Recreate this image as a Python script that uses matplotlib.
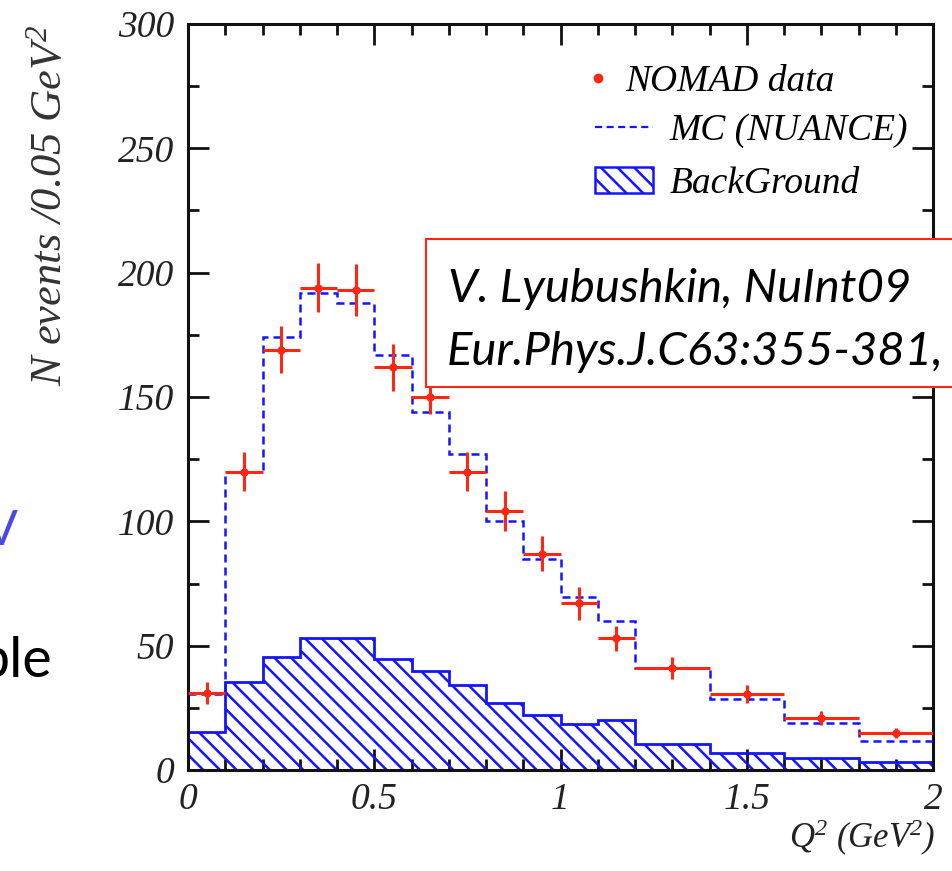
import numpy as np
import matplotlib
matplotlib.use("Agg")
import matplotlib.pyplot as plt
from matplotlib.lines import Line2D
from matplotlib.patches import Patch, Rectangle

# bin edges in Q^2 (GeV^2)
edges = [0.0, 0.1, 0.2, 0.3, 0.4, 0.5, 0.6, 0.7, 0.8, 0.9, 1.0, 1.1, 1.2, 1.4, 1.6, 1.8, 2.0]

# NOMAD data points (events / 0.05 GeV^2) with errors
data_vals = [31, 120, 169, 194, 193, 162, 150, 120, 104, 87, 67, 53, 41, 30.5, 21, 15]
data_errs = [4.5, 8, 9.5, 10, 10.5, 9.5, 7, 8, 8, 7, 6.5, 5, 4.4, 3.6, 2.8, 2]

# MC (NUANCE) prediction
mc_vals = [30.5, 120, 174, 192, 188, 167, 144, 127, 100, 85, 69.5, 60, 41, 28.5, 19, 11.7]

# background
bg_vals = [15.3, 35.5, 45.6, 53, 53, 44.7, 40, 34, 27, 22, 18.6, 20, 10.5, 6.8, 4.8, 3.2]

RED = "#ff2612"
BLUE = "#1414ff"
SERIF = "Liberation Serif"

plt.rcParams["hatch.linewidth"] = 1.8
plt.rcParams["mathtext.default"] = "regular"

W, H = 952, 871
fig = plt.figure(figsize=(W / 100, H / 100), dpi=100)
ax = fig.add_axes([188 / W, 1 - 770 / H, 745 / W, 746 / H])

edges_a = np.array(edges)
centers = 0.5 * (edges_a[1:] + edges_a[:-1])
half_w = 0.5 * (edges_a[1:] - edges_a[:-1])

# background, hatched
ax.stairs(bg_vals, edges, fill=True, facecolor="none", edgecolor=BLUE,
          hatch="\\\\", linewidth=2.0, zorder=2)

# MC dashed histogram
ax.stairs(mc_vals, edges, baseline=None, color=BLUE, linewidth=1.8,
          linestyle=(0, (3.2, 2.0)), zorder=3)

# data
ax.errorbar(centers, data_vals, xerr=half_w, yerr=data_errs, fmt="o",
            color=RED, ms=5, elinewidth=2.2, capsize=0, zorder=4)

ax.set_xlim(0, 2)
ax.set_ylim(0, 300)
ax.set_xticks([0, 0.5, 1, 1.5, 2])
ax.set_xticklabels(["0", "0.5", "1", "1.5", "2"])
ax.set_xticks(np.arange(0, 2.01, 0.1), minor=True)
ax.set_yticks([0, 50, 100, 150, 200, 250, 300])
ax.set_yticks(np.arange(0, 301, 25), minor=True)

ax.tick_params(which="both", direction="in", top=True, right=True,
               width=2.0, color="#111111")
ax.tick_params(which="major", length=15)
ax.tick_params(which="minor", length=8)
ax.tick_params(axis="y", pad=10)
ax.tick_params(axis="x", pad=9)
for lab in ax.get_xticklabels() + ax.get_yticklabels():
    lab.set_family(SERIF)
    lab.set_style("italic")
    lab.set_fontsize(27)
    lab.set_color("#222222")
for sp in ax.spines.values():
    sp.set_linewidth(2.2)
    sp.set_color("#111111")

# axis titles
fig.text(50 / W, 1 - 205 / H, "N events /0.05 GeV$^2$", rotation=90,
         ha="center", va="center", family=SERIF, style="italic",
         fontsize=32, color="#333333")
fig.text(935 / W, 1 - 838 / H, "Q$^2$ (GeV$^2$)", ha="right", va="center",
         family=SERIF, style="italic", fontsize=25, color="#222222")

# legend: data entry on its own (ROOT puts its marker further left)
leg_font = {"family": SERIF, "style": "italic", "size": 27}
leg1 = ax.legend([Line2D([], [], marker="o", color=RED, linestyle="none", ms=6)],
                 ["NOMAD data"], loc="upper left",
                 bbox_to_anchor=(0.5356, 0.946), frameon=False, prop=leg_font,
                 handlelength=0.6, handletextpad=0.41, borderaxespad=0,
                 borderpad=0)
ax.add_artist(leg1)
handles = [
    Line2D([], [], color=BLUE, linewidth=1.6, linestyle=(0, (3.2, 2.0))),
    Patch(facecolor="none", edgecolor=BLUE, hatch="\\\\", linewidth=1.8),
]
ax.legend(handles, ["MC (NUANCE)", "BackGround"], loc="upper left",
          bbox_to_anchor=(0.546, 0.880), frameon=False, prop=leg_font,
          handlelength=1.55, handletextpad=0.45, labelspacing=0.5,
          borderaxespad=0, borderpad=0)

# citation box overlaid on the slide
box = Rectangle((426 / W, 1 - 387 / H), 0.6, (387 - 239) / H,
                transform=fig.transFigure, facecolor="white",
                edgecolor=RED, linewidth=1.5, zorder=5)
fig.add_artist(box)
fig.text(448 / W, 1 - 302 / H, "V. Lyubushkin, NuInt09", family="Lato",
         style="italic", fontsize=34, color="black", zorder=6)
fig.text(447 / W, 1 - 365 / H, "Eur.Phys.J.C63:355-381,", family="Lato",
         style="italic", fontsize=34, color="black", zorder=6)

# fragments of slide text cut at the left edge
fig.text(18 / W, 1 - 545 / H, "V", ha="right", family="Lato",
         fontsize=35, color="#4a4ae0")
fig.text(52 / W, 1 - 677 / H, "ble", ha="right", family="Lato",
         fontsize=40, color="black")

fig.savefig("out.png", dpi=100)
